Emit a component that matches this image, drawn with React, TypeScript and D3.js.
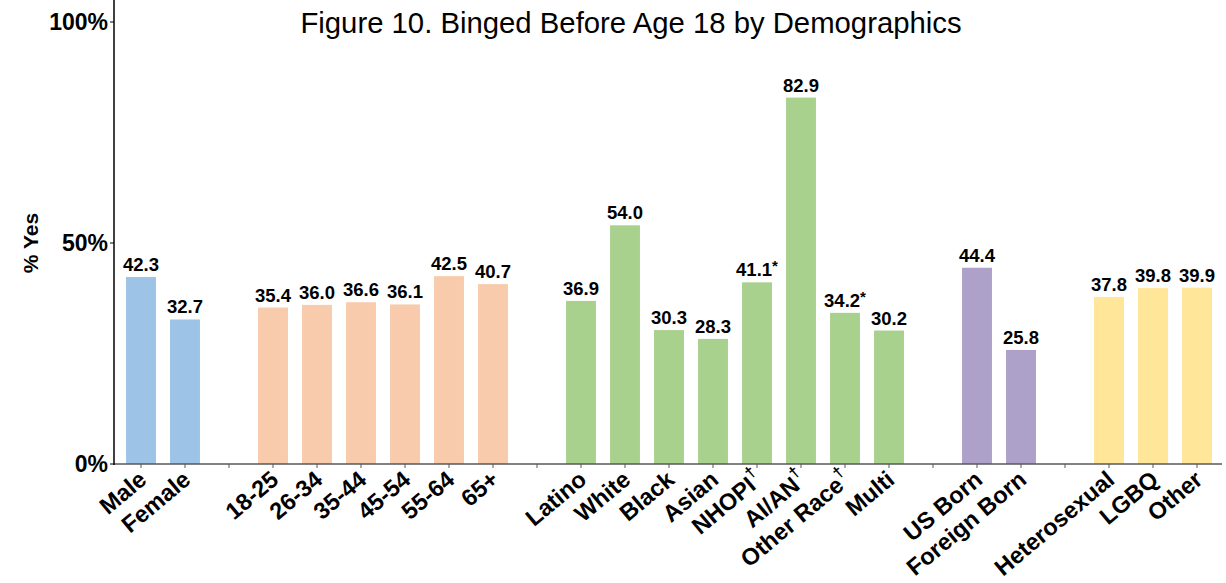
import React, { useEffect, useRef } from "react";
import * as d3 from "d3";

// slots: one per bar, empty strings are the gaps between groups
const categories = [
  "Male", "Female", "",
  "18-25", "26-34", "35-44", "45-54", "55-64", "65+", "",
  "Latino", "White", "Black", "Asian", "NHOPI", "AI/AN", "Other Race", "Multi", "",
  "US Born", "Foreign Born", "",
  "Heterosexual", "LGBQ", "Other",
];
const values = [
  42.3, 32.7, null,
  35.4, 36.0, 36.6, 36.1, 42.5, 40.7, null,
  36.9, 54.0, 30.3, 28.3, 41.1, 82.9, 34.2, 30.2, null,
  44.4, 25.8, null,
  37.8, 39.8, 39.9,
];
const groups = [
  "sex", "sex", "",
  "age", "age", "age", "age", "age", "age", "",
  "race", "race", "race", "race", "race", "race", "race", "race", "",
  "birth", "birth", "",
  "orient", "orient", "orient",
];
const daggers = ["NHOPI", "AI/AN", "Other Race"];
const starred = ["NHOPI", "Other Race"];
const yTicks = [0, 50, 100];

const colors: Record<string, string> = {
  sex: "#9dc3e6",
  age: "#f8cbad",
  race: "#a9d18e",
  birth: "#ada0c9",
  orient: "#ffe699",
};

export default function App() {
  const ref = useRef<SVGSVGElement>(null);

  useEffect(() => {
    const svg = d3.select(ref.current);
    svg.selectAll("*").remove();

    const font = "'Liberation Sans', Arial, sans-serif";
    const slots = categories.map((c, i) => i + ":" + c);

    const x = d3.scaleBand<string>()
      .domain(slots)
      .range([119, 1219])
      .paddingInner(0.32)
      .paddingOuter(0.16);
    const y = d3.scaleLinear().domain([0, 100]).range([464, 22]);

    // title
    svg.append("text")
      .attr("x", 631).attr("y", 33)
      .attr("text-anchor", "middle")
      .style("font-family", font).style("font-size", "29.3px")
      .text("Figure 10. Binged Before Age 18 by Demographics");

    // bars
    const data = slots.map((s, i) => ({ s, name: categories[i], v: values[i], g: groups[i] }));
    svg.append("g").selectAll("rect")
      .data(data.filter(d => d.v != null))
      .enter().append("rect")
      .attr("x", d => x(d.s)!)
      .attr("width", x.bandwidth())
      .attr("y", d => y(d.v!))
      .attr("height", d => y(0) - y(d.v!))
      .attr("fill", d => colors[d.g]);

    // value labels
    const vl = svg.append("g").selectAll("text")
      .data(data.filter(d => d.v != null))
      .enter().append("text")
      .attr("x", d => x(d.s)! + x.bandwidth() / 2)
      .attr("y", d => y(d.v!) - 6)
      .attr("text-anchor", "middle")
      .style("font-family", font).style("font-size", "18.5px").style("font-weight", "bold");
    vl.append("tspan").text(d => d.v!.toFixed(1));
    vl.filter(d => starred.includes(d.name))
      .append("tspan").attr("dy", -5).style("font-size", "15px").text("*");

    // x axis
    const xAxis = svg.append("g").attr("transform", "translate(0,464)");
    xAxis.append("line")
      .attr("x1", 114).attr("x2", 1222)
      .attr("stroke", "#595959").attr("stroke-width", 1.5);
    xAxis.selectAll("line.tick")
      .data(slots)
      .enter().append("line")
      .attr("class", "tick")
      .attr("x1", d => x(d)! + x.bandwidth() / 2)
      .attr("x2", d => x(d)! + x.bandwidth() / 2)
      .attr("y1", 0).attr("y2", 4)
      .attr("stroke", "#595959");

    // rotated labels, baseline end just right of the tick
    const xl = xAxis.selectAll("text")
      .data(data.filter(d => d.name !== ""))
      .enter().append("text")
      .attr("transform", d => "translate(" + (x(d.s)! + x.bandwidth() / 2 + 7) + ",18) rotate(-40)")
      .attr("text-anchor", "end")
      .style("font-family", font).style("font-size", "23.5px").style("font-weight", "bold");
    xl.append("tspan").text(d => d.name);
    xl.filter(d => daggers.includes(d.name))
      .append("tspan").attr("dy", -11).style("font-size", "16px").text("†");

    // y axis
    svg.append("line")
      .attr("x1", 114).attr("x2", 114)
      .attr("y1", 0).attr("y2", 465)
      .attr("stroke", "#000").attr("stroke-width", 1.5);
    const yt = svg.append("g").selectAll("g")
      .data(yTicks)
      .enter().append("g")
      .attr("transform", d => "translate(114," + y(d) + ")");
    yt.append("line").attr("x1", -4).attr("x2", 0).attr("stroke", "#000");
    yt.append("text")
      .attr("x", -6).attr("dy", "0.35em")
      .attr("text-anchor", "end")
      .style("font-family", font).style("font-size", "23px").style("font-weight", "bold")
      .text(d => d + "%");

    svg.append("text")
      .attr("transform", "translate(38," + y(50) + ") rotate(-90)")
      .attr("text-anchor", "middle")
      .style("font-family", font).style("font-size", "21px").style("font-weight", "bold")
      .text("% Yes");
  }, []);

  return (
    <svg ref={ref} width={1226} height={583}
      style={{ position: "absolute", left: 0, top: 0, background: "#fff" }} />
  );
}
